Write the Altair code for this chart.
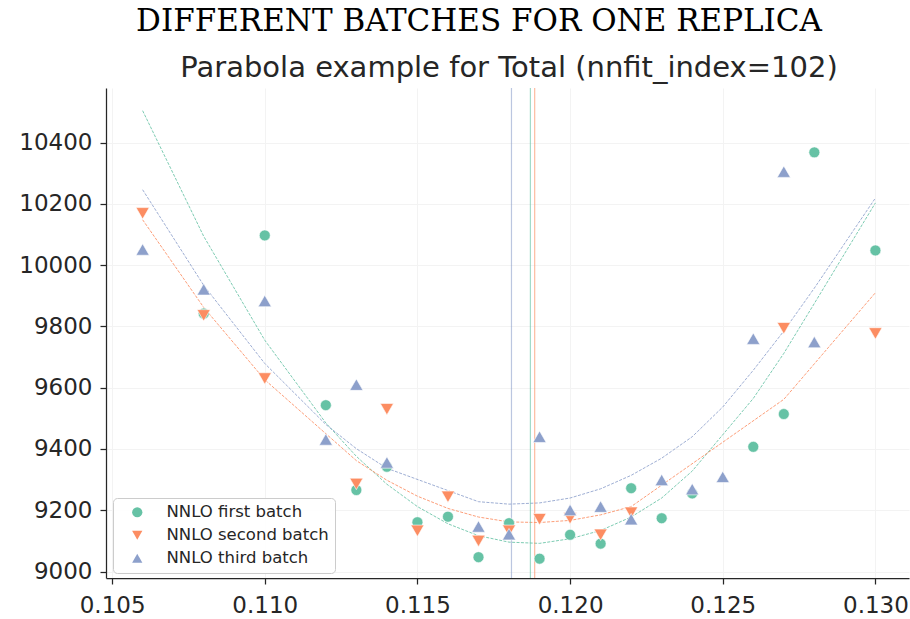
import altair as alt
import pandas as pd

# ---------------- data ----------------
batches = ["NNLO first batch", "NNLO second batch", "NNLO third batch"]
curves = ["fit first", "fit second", "fit third"]
colors = ["#66c2a5", "#fc8d62", "#8da0cb"]
shapes = ["circle", "triangle-down", "triangle-up"]

green_x = [0.108, 0.110, 0.112, 0.113, 0.114, 0.115, 0.116, 0.117, 0.118, 0.119,
           0.120, 0.121, 0.122, 0.123, 0.124, 0.126, 0.127, 0.128, 0.130]
green_y = [9842, 10097, 9543, 9266, 9342, 9161, 9179, 9047, 9158, 9042,
           9120, 9091, 9272, 9174, 9255, 9407, 9514, 10368, 10048]

orange_x = [0.106, 0.108, 0.110, 0.113, 0.114, 0.115, 0.116, 0.117, 0.118, 0.119,
            0.120, 0.121, 0.122, 0.127, 0.130]
orange_y = [10169, 9836, 9630, 9286, 9530, 9133, 9244, 9100, 9133, 9171,
            9174, 9120, 9192, 9794, 9777]

blue_x = [0.106, 0.108, 0.110, 0.112, 0.113, 0.114, 0.117, 0.118, 0.119, 0.120,
          0.121, 0.122, 0.123, 0.124, 0.125, 0.126, 0.127, 0.128]
blue_y = [10051, 9921, 9883, 9431, 9610, 9356, 9147, 9122, 9440, 9201,
          9212, 9171, 9299, 9269, 9309, 9760, 10305, 9749]

# fitted parabolas
green_fit_x = [0.106, 0.108, 0.110, 0.112, 0.113, 0.114, 0.115, 0.116, 0.117, 0.118,
               0.119, 0.120, 0.121, 0.122, 0.123, 0.124, 0.126, 0.127, 0.128, 0.130]
green_fit_y = [10504, 10094, 9755, 9485, 9376, 9285, 9212, 9156, 9117, 9096,
               9092, 9107, 9134, 9178, 9240, 9328, 9565, 9712, 9875, 10203]

orange_fit_x = [0.106, 0.108, 0.110, 0.113, 0.114, 0.115, 0.116, 0.117, 0.118, 0.119,
                0.120, 0.121, 0.122, 0.127, 0.130]
orange_fit_y = [10148, 9862, 9626, 9362, 9298, 9246, 9206, 9178, 9162, 9160,
                9167, 9185, 9212, 9562, 9910]

blue_fit_x = [0.106, 0.108, 0.110, 0.112, 0.113, 0.114, 0.117, 0.118, 0.119, 0.120,
              0.121, 0.122, 0.123, 0.124, 0.125, 0.126, 0.127, 0.128, 0.130]
blue_fit_y = [10246, 9934, 9679, 9480, 9401, 9337, 9228, 9220, 9224, 9240,
              9270, 9314, 9370, 9440, 9537, 9657, 9785, 9925, 10219]

# minima of the parabolas (vertical lines)
minima_x = [0.11870, 0.11884, 0.11808]

x_ticks = [0.105, 0.110, 0.115, 0.120, 0.125, 0.130]
y_ticks = [9000, 9200, 9400, 9600, 9800, 10000, 10200, 10400]

main_title = ["DIFFERENT BATCHES FOR ONE REPLICA"]
sub_title = ["Parabola example for Total (nnfit_index=102)"]

# ---------------- tables ----------------
pts = pd.concat([
    pd.DataFrame({"x": green_x, "y": green_y, "batch": batches[0]}),
    pd.DataFrame({"x": orange_x, "y": orange_y, "batch": batches[1]}),
    pd.DataFrame({"x": blue_x, "y": blue_y, "batch": batches[2]}),
])
fits = pd.concat([
    pd.DataFrame({"x": green_fit_x, "y": green_fit_y, "curve": curves[0]}),
    pd.DataFrame({"x": orange_fit_x, "y": orange_fit_y, "curve": curves[1]}),
    pd.DataFrame({"x": blue_fit_x, "y": blue_fit_y, "curve": curves[2]}),
])
vlines = pd.DataFrame({"x": minima_x, "curve": curves})

W, H = 803, 490
FONT = "DejaVu Sans"
INK = "#262626"

xscale = alt.Scale(domain=[0.1048, 0.1311], nice=False, zero=False)
yscale = alt.Scale(domain=[8979, 10578], nice=False, zero=False)
xaxis = alt.Axis(values=x_ticks, format=".3f", title=None, grid=True, labelPadding=10)
yaxis = alt.Axis(values=y_ticks, format="d", title=None, grid=True, labelPadding=8)
stroke_scale = alt.Scale(domain=curves, range=colors)
color_scale = alt.Scale(domain=batches, range=colors)
shape_scale = alt.Scale(domain=batches, range=shapes)

lines = alt.Chart(fits).mark_line(strokeDash=[3, 1.4], strokeWidth=1, opacity=0.85).encode(
    x=alt.X("x:Q", scale=xscale, axis=xaxis),
    y=alt.Y("y:Q", scale=yscale, axis=yaxis),
    stroke=alt.Stroke("curve:N", scale=stroke_scale, legend=None),
    detail="curve:N",
    order="x:Q",
)

rules = alt.Chart(vlines).mark_rule(strokeWidth=1.2, opacity=0.6).encode(
    x=alt.X("x:Q", scale=xscale),
    stroke=alt.Stroke("curve:N", scale=stroke_scale, legend=None),
)

legend = alt.Legend(
    title=None, orient="none", legendX=7, legendY=410,
    fillColor="rgba(255,255,255,0.85)", strokeColor="#cccccc", cornerRadius=4,
    padding=6, symbolOffset=10, labelOffset=21, rowPadding=6, labelLimit=400,
    labelFont=FONT, labelFontSize=16.5, labelColor=INK, symbolSize=105,
    symbolStrokeWidth=0,
)

enc = dict(
    x=alt.X("x:Q", scale=xscale),
    y=alt.Y("y:Q", scale=yscale),
    color=alt.Color("batch:N", scale=color_scale, legend=legend),
    shape=alt.Shape("batch:N", scale=shape_scale, legend=legend),
)

circles = alt.Chart(pts).transform_filter(
    alt.datum.batch == batches[0]
).mark_point(filled=True, size=120, opacity=1, stroke="white", strokeWidth=0.6).encode(**enc)

triangles = alt.Chart(pts).transform_filter(
    alt.datum.batch != batches[0]
).mark_point(filled=True, size=175, opacity=1, stroke="white", strokeWidth=0.6).encode(**enc)

t1 = alt.Chart(pd.DataFrame({"t": main_title})).mark_text(
    font="DejaVu Serif", fontSize=31, color="black", baseline="alphabetic", align="center"
).encode(text="t:N", x=alt.value(373), y=alt.value(-57))

t2 = alt.Chart(pd.DataFrame({"t": sub_title})).mark_text(
    font=FONT, fontSize=29, color=INK, baseline="alphabetic", align="center"
).encode(text="t:N", x=alt.value(403), y=alt.value(-11))

chart = alt.layer(lines, rules, circles, triangles, t1, t2).properties(
    width=W, height=H,
    padding={"left": 106, "top": 88, "right": 1, "bottom": 41},
    autosize=alt.AutoSizeParams(type="none"),
    background="white",
).configure_view(stroke=None).configure_axis(
    labelFont=FONT, labelFontSize=23, labelColor=INK,
    domainColor=INK, domainWidth=1.25, tickColor=INK, tickWidth=1.25, tickSize=6,
    gridColor="#f3f3f3", gridWidth=1,
)

chart.save("out.html", embed_options={"renderer": "svg", "actions": False})
